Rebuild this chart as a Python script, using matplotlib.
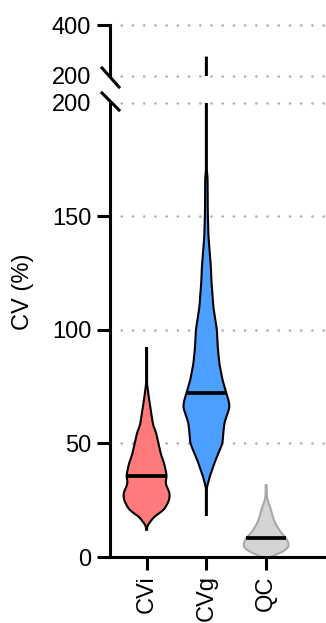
import numpy as np
import matplotlib
matplotlib.use("Agg")
import matplotlib.pyplot as plt
from matplotlib.lines import Line2D

plt.rcParams["font.family"] = ["Liberation Sans", "DejaVu Sans"]

# data
categories = ["CVi", "CVg", "QC"]
medians = [35.6, 72.0, 8.3]

# violin outlines: CV level and relative width (1 = widest point)
cvi_levels = [12, 14, 15, 17.6, 20.7, 25, 28, 32.5, 35.6, 41, 45, 50, 55, 58, 62, 66, 70, 74, 76, 92]
cvi_density = [0.02, 0.02, 0.13, 0.3, 0.75, 0.97, 1.0, 0.8, 0.87, 0.76, 0.62, 0.51, 0.4, 0.28, 0.22,
               0.16, 0.1, 0.05, 0.02, 0.02]

cvg_levels = [18.5, 31, 33, 35, 42.6, 50, 55, 59, 63, 66, 69, 72, 78, 85, 92, 100, 110, 121, 128, 141,
              152, 167, 170, 272]
cvg_density = [0.02, 0.02, 0.09, 0.13, 0.39, 0.69, 0.73, 0.77, 0.9, 1.0, 0.95, 0.86, 0.69, 0.56, 0.49,
               0.45, 0.3, 0.22, 0.19, 0.09, 0.06, 0.05, 0.02, 0.02]

qc_levels = [0, 1.8, 4.4, 6, 8.3, 10.5, 14, 17, 20, 23, 26, 31.6]
qc_density = [0.1, 0.65, 1.0, 0.96, 0.87, 0.65, 0.43, 0.3, 0.23, 0.13, 0.03, 0.02]

low_ticks = [0, 50, 100, 150]
high_ticks = [400]
break_value = 200

MAX_HALF = 0.39
FS = 17
GRID = dict(color="#b0b0b0", lw=1.9, linestyle=(0, (0.05, 4.2)), dash_capstyle="round",
            zorder=1, clip_on=False)

fig = plt.figure(figsize=(3.26, 6.23), dpi=100)
W, H = 326, 623
left = 109.5 / W
width = 1 - left
ax = fig.add_axes([left, (H - 557) / H, width, (557 - 102.7) / H])
ax_top = fig.add_axes([left, (H - 76) / H, width, 51 / H])

violins = [
    (cvi_levels, cvi_density, "#ff7b7b", "black"),
    (cvg_levels, cvg_density, "#4d9fff", "black"),
    (qc_levels, qc_density, "#d4d4d4", "#a8a8a8"),
]


def outline(levels, density):
    # resample the outline finely and soften the corners a little
    y = np.arange(levels[0], levels[-1] + 0.05, 0.1)
    w = np.interp(y, levels, density)
    k = np.exp(-0.5 * (np.arange(-30, 31) * 0.1 / 1.0) ** 2)
    k /= k.sum()
    wp = np.pad(w, 30, mode="edge")
    w = np.convolve(wp, k, mode="same")[30:-30]
    return y, w * MAX_HALF


def draw_violin(a, pos, levels, density, face, edge, median):
    y, w = outline(levels, density)
    xs = np.concatenate([pos - w, (pos + w)[::-1]])
    ys = np.concatenate([y, y[::-1]])
    a.fill(xs, ys, facecolor=face, edgecolor=edge, lw=1.5, zorder=2)
    mw = np.interp(median, y, w)
    a.plot([pos - mw, pos + mw], [median, median], color="black", lw=2.7,
           solid_capstyle="butt", zorder=3)


for i, (lv, dn, fc, ec) in enumerate(violins):
    for a in (ax, ax_top):
        draw_violin(a, i + 1, lv, dn, fc, ec, medians[i])

# lower panel
ax.set_xlim(0.38, 4.0)
ax.set_ylim(0, break_value)
for v in low_ticks[1:] + [break_value]:
    ax.axhline(v, **GRID)
ax.set_yticks(low_ticks)
ax.set_yticks([break_value], labels=[str(break_value)], minor=True)
ax.set_xticks([1, 2, 3], labels=categories, rotation=90)
ax.spines[["top", "right"]].set_visible(False)
ax.spines["left"].set_linewidth(2.2)
ax.spines["bottom"].set_linewidth(2.2)
ax.tick_params(which="major", length=9.5, width=2.2, pad=3.6, labelsize=FS)
ax.tick_params(axis="y", which="minor", length=0, pad=13.1, labelsize=FS)

# upper panel
ax_top.set_xlim(0.38, 4.0)
ax_top.set_ylim(break_value, 400)
for v in [break_value] + high_ticks:
    ax_top.axhline(v, **GRID)
ax_top.set_yticks(high_ticks)
ax_top.set_yticks([break_value], labels=[str(break_value)], minor=True)
ax_top.set_xticks([])
for s in ["top", "right", "bottom"]:
    ax_top.spines[s].set_visible(False)
ax_top.spines["left"].set_linewidth(2.2)
ax_top.tick_params(which="major", length=9.5, width=2.2, pad=3.6, labelsize=FS)
ax_top.tick_params(axis="y", which="minor", length=0, pad=13.1, labelsize=FS)

# break marks
for (x0, y0), (x1, y1) in [((102, 68), (119, 87)), ((102, 93), (119, 110))]:
    fig.add_artist(Line2D([x0 / W, x1 / W], [1 - y0 / H, 1 - y1 / H], color="black", lw=2.2))

fig.text(23 / W, 1 - 292 / H, "CV (%)", rotation=90, ha="center", va="center", fontsize=FS)

fig.savefig("out.png", dpi=100)
